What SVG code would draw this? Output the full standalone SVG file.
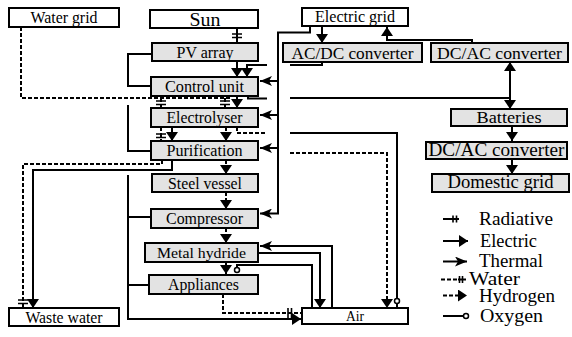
<svg xmlns="http://www.w3.org/2000/svg" width="572" height="337" viewBox="0 0 572 337">
<style>
.b{stroke:#000;stroke-width:2}
.g{fill:#e3e3e3}
.w{fill:#fff}
.t{text-anchor:middle;fill:#000}
.l{fill:#000;font-size:18px}
.c{fill:none;stroke:#000;stroke-width:2}
.d{stroke-dasharray:4 2}
.k{stroke:#000;stroke-width:1.6;fill:none}
.o{fill:#fff;stroke:#000;stroke-width:1.5}
</style>
<defs>
<marker id="e" viewBox="0 0 9 12" refX="9" refY="6" markerWidth="9" markerHeight="12" markerUnits="userSpaceOnUse" orient="auto"><path d="M0,0 L9,6 L0,12 z"/></marker>
<marker id="e2" viewBox="0 0 9 12" refX="9" refY="6" markerWidth="9" markerHeight="12" markerUnits="userSpaceOnUse" orient="auto-start-reverse"><path d="M0,0 L9,6 L0,12 z"/></marker>
<marker id="h" viewBox="0 0 12 10" refX="12" refY="5" markerWidth="12" markerHeight="10" markerUnits="userSpaceOnUse" orient="auto"><path d="M0,0 L12,5 L0,10 L3,5 z"/></marker>
</defs>

<g id="connectors">
<path class="c" d="M237,28 V43"/>
<path class="k" d="M232,34 H242 M232,37.5 H242"/>
<path class="c" d="M237,61 V77" marker-end="url(#e)"/>
<path class="c" d="M322,62 V65 H290"/>
<path class="c" d="M267,65 H247 V77" marker-end="url(#e)"/>
<path class="c" d="M322,26 V43" marker-end="url(#e)"/>
<path class="c" d="M472,43 V40 H387 V27" marker-end="url(#e)"/>
<path class="c" d="M510,62 V109" marker-start="url(#e2)" marker-end="url(#e2)"/>
<path class="c" d="M248,96 V98.5 H267"/>
<path class="c" d="M290,98 H510"/>
<path class="c" d="M512,119 V141" marker-end="url(#e)"/>
<path class="c" d="M512,156 V174" marker-end="url(#e)"/>
<path class="c" d="M237,96 V108" marker-end="url(#e)"/>
<path class="c" d="M310,26 V32.5 H278 V213.5 H260" marker-end="url(#h)"/>
<path class="c" d="M278,81 H260" marker-end="url(#h)"/>
<path class="c" d="M278,115 H260" marker-end="url(#h)"/>
<path class="c" d="M278,148 H260" marker-end="url(#h)"/>
<path class="c" d="M332,308 V246 H260" marker-end="url(#h)"/>
<path class="c" d="M258,253 H320 V308" marker-end="url(#e)"/>
<path class="c d" d="M21,27 V98 H232"/>
<path class="c d" d="M161,98 V108"/>
<path class="c d" d="M225,98 V108"/>
<path class="k" d="M156,101 H166 M156,104.5 H166 M220,101 H230 M220,104.5 H230"/>
<path class="c d" d="M161,127 V141"/>
<path class="k" d="M156,134 H166 M156,137.5 H166"/>
<path class="c" d="M172,127 V141" marker-end="url(#e)"/>
<path class="c d" d="M226,127 V141" marker-end="url(#e)"/>
<path class="c d" d="M237,127 V133 H267"/>
<path class="c" d="M290,133 H397 V308"/>
<circle class="o" cx="397" cy="301" r="2.5"/>
<path class="c d" d="M290,153 H387 V308" marker-end="url(#e)"/>
<path class="c d" d="M162,160 V164 H23 V308"/>
<path class="k" d="M18,300 H28 M18,303.5 H28"/>
<path class="c" d="M172,160 V170 H33 V308" marker-end="url(#e)"/>
<path class="c d" d="M226,160 V174" marker-end="url(#e)"/>
<path class="c d" d="M226,192 V209" marker-end="url(#e)"/>
<path class="c d" d="M226,228 V243" marker-end="url(#e)"/>
<path class="c" d="M226,262 V274" marker-end="url(#e)"/>
<path class="c" d="M312,308 V265 H237 V271"/>
<circle class="o" cx="237" cy="270" r="2.5"/>
<path class="c d" d="M223,294 V313 H301"/>
<path class="k" d="M288,308 V318 M291.5,308 V318"/>
<path class="c" d="M152,54 H128 V86 H151"/>
<path class="c" d="M128,105 V151 H151"/>
<path class="c" d="M128,175 V319 H301" marker-end="url(#e)"/>
<path class="c" d="M128,217 H151"/>
<path class="c" d="M128,285 H149"/>
</g>

<g font-family="Liberation Serif, Times New Roman, serif">
<g id="water-grid"><rect class="b w" x="9" y="8" width="110" height="19"/><text class="t" x="64" y="22.5" font-size="16" textLength="67" lengthAdjust="spacingAndGlyphs">Water grid</text></g>
<g id="sun"><rect class="b w" x="150" y="10" width="108" height="18"/><text class="t" x="205" y="26" font-size="19" textLength="31" lengthAdjust="spacingAndGlyphs">Sun</text></g>
<g id="pv-array"><rect class="b g" x="152" y="43" width="106" height="18"/><text class="t" x="205" y="57.5" font-size="16" textLength="57" lengthAdjust="spacingAndGlyphs">PV array</text></g>
<g id="control-unit"><rect class="b g" x="151" y="77" width="107" height="19"/><text class="t" x="204.5" y="92" font-size="16" textLength="79" lengthAdjust="spacingAndGlyphs">Control unit</text></g>
<g id="electrolyser"><rect class="b g" x="151" y="108" width="107" height="19"/><text class="t" x="204.5" y="123" font-size="16" textLength="76" lengthAdjust="spacingAndGlyphs">Electrolyser</text></g>
<g id="purification"><rect class="b g" x="151" y="141" width="107" height="19"/><text class="t" x="204.5" y="156" font-size="16" textLength="76" lengthAdjust="spacingAndGlyphs">Purification</text></g>
<g id="steel-vessel"><rect class="b g" x="152" y="174" width="106" height="18"/><text class="t" x="205" y="188.5" font-size="16" textLength="74" lengthAdjust="spacingAndGlyphs">Steel vessel</text></g>
<g id="compressor"><rect class="b g" x="151" y="209" width="107" height="19"/><text class="t" x="204.5" y="224" font-size="16" textLength="77" lengthAdjust="spacingAndGlyphs">Compressor</text></g>
<g id="metal-hydride"><rect class="b g" x="145" y="243" width="113" height="19"/><text class="t" x="201.5" y="258" font-size="15.5" textLength="89" lengthAdjust="spacingAndGlyphs">Metal hydride</text></g>
<g id="appliances"><rect class="b g" x="149" y="275" width="109" height="19"/><text class="t" x="203.5" y="290" font-size="16" textLength="71" lengthAdjust="spacingAndGlyphs">Appliances</text></g>
<g id="waste-water"><rect class="b w" x="9" y="308" width="110" height="18"/><text class="t" x="64" y="322.5" font-size="16" textLength="77" lengthAdjust="spacingAndGlyphs">Waste water</text></g>
<g id="air"><rect class="b w" x="302" y="308" width="106" height="16"/><text class="t" x="355" y="321" font-size="14" textLength="18" lengthAdjust="spacingAndGlyphs">Air</text></g>
<g id="electric-grid"><rect class="b w" x="302" y="8" width="106" height="18"/><text class="t" x="355" y="22" font-size="16" textLength="80" lengthAdjust="spacingAndGlyphs">Electric grid</text></g>
<g id="acdc-converter"><rect class="b g" x="283" y="43" width="139" height="19"/><text class="t" x="352.5" y="58.5" font-size="17" textLength="122" lengthAdjust="spacingAndGlyphs">AC/DC converter</text></g>
<g id="dcac-converter-1"><rect class="b g" x="431" y="43" width="137" height="19"/><text class="t" x="499.5" y="58.5" font-size="17" textLength="125" lengthAdjust="spacingAndGlyphs">DC/AC converter</text></g>
<g id="batteries"><rect class="b g" x="451" y="109" width="116" height="17"/><text class="t" x="509" y="123" font-size="17.5" textLength="65" lengthAdjust="spacingAndGlyphs">Batteries</text></g>
<g id="dcac-converter-2"><rect class="b g" x="426" y="142" width="141" height="17"/><text class="t" x="496.5" y="156" font-size="18" textLength="136" lengthAdjust="spacingAndGlyphs">DC/AC converter</text></g>
<g id="domestic-grid"><rect class="b g" x="432" y="174" width="137" height="18"/><text class="t" x="500.5" y="188" font-size="18" textLength="106" lengthAdjust="spacingAndGlyphs">Domestic grid</text></g>

<g id="legend">
<path class="c" d="M443,219 H459"/><path class="k" d="M453,215.5 V222.5 M456.5,215.5 V222.5"/>
<text class="l" x="479" y="225" textLength="74" lengthAdjust="spacingAndGlyphs">Radiative</text>
<path class="c" d="M443,241 H468" marker-end="url(#e)"/>
<text class="l" x="480" y="247" textLength="57" lengthAdjust="spacingAndGlyphs">Electric</text>
<path class="c" d="M443,261.5 H467" marker-end="url(#h)"/>
<text class="l" x="479" y="266.5" textLength="64" lengthAdjust="spacingAndGlyphs">Thermal</text>
<path class="c d" d="M441,279.5 H458"/><path class="c" d="M458,279.5 H466"/><path class="k" d="M459.5,276 V283 M462.5,276 V283"/>
<text class="l" x="469" y="285" font-size="15.5" textLength="51" lengthAdjust="spacingAndGlyphs">Water</text>
<path class="c d" d="M443,295.5 H467" marker-end="url(#e)"/>
<text class="l" x="479" y="301.5" textLength="76" lengthAdjust="spacingAndGlyphs">Hydrogen</text>
<path class="c" d="M443,316 H465"/><circle class="o" cx="466" cy="316" r="2.5"/>
<text class="l" x="480" y="322" textLength="63" lengthAdjust="spacingAndGlyphs">Oxygen</text>
</g>
</g>
</svg>
